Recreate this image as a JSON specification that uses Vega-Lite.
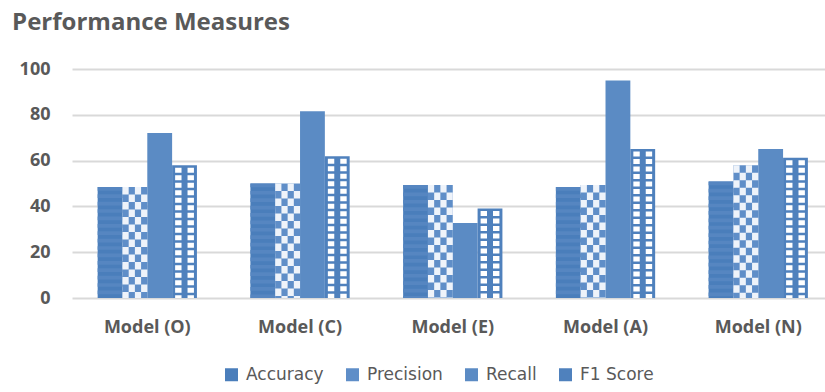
{
  "$schema": "https://vega.github.io/schema/vega-lite/v6.json",
  "width": 753,
  "height": 229,
  "autosize": "none",
  "padding": {"left": 72, "top": 69, "right": 0, "bottom": 94},
  "background": "white",
  "title": {
    "text": "Performance Measures",
    "anchor": "start",
    "font": "Open Sans",
    "fontSize": 24,
    "fontWeight": "bold",
    "color": "#595959",
    "baseline": "alphabetic",
    "offset": 6,
    "dx": -7
  },
  "config": {
    "view": {"stroke": null},
    "axis": {"labelFont": "Open Sans", "labelFontWeight": "bold", "labelColor": "#595959"}
  },
  "data": {
    "values": [
      {"Model": "Model (O)", "Measure": "Accuracy", "Value": 48.5},
      {"Model": "Model (O)", "Measure": "Precision", "Value": 48.5},
      {"Model": "Model (O)", "Measure": "Recall", "Value": 72.1},
      {"Model": "Model (O)", "Measure": "F1 Score", "Value": 58.0},
      {"Model": "Model (C)", "Measure": "Accuracy", "Value": 50.0},
      {"Model": "Model (C)", "Measure": "Precision", "Value": 50.0},
      {"Model": "Model (C)", "Measure": "Recall", "Value": 81.5},
      {"Model": "Model (C)", "Measure": "F1 Score", "Value": 61.9},
      {"Model": "Model (E)", "Measure": "Accuracy", "Value": 49.3},
      {"Model": "Model (E)", "Measure": "Precision", "Value": 49.3},
      {"Model": "Model (E)", "Measure": "Recall", "Value": 32.8},
      {"Model": "Model (E)", "Measure": "F1 Score", "Value": 39.1},
      {"Model": "Model (A)", "Measure": "Accuracy", "Value": 48.5},
      {"Model": "Model (A)", "Measure": "Precision", "Value": 49.3},
      {"Model": "Model (A)", "Measure": "Recall", "Value": 95.0},
      {"Model": "Model (A)", "Measure": "F1 Score", "Value": 65.1},
      {"Model": "Model (N)", "Measure": "Accuracy", "Value": 50.9},
      {"Model": "Model (N)", "Measure": "Precision", "Value": 58.0},
      {"Model": "Model (N)", "Measure": "Recall", "Value": 65.1},
      {"Model": "Model (N)", "Measure": "F1 Score", "Value": 61.2}
    ]
  },
  "layer": [
    {
      "mark": {"type": "bar"},
      "encoding": {
        "x": {
          "field": "Model", "type": "nominal", "sort": null,
          "scale": {"paddingInner": 0.35, "paddingOuter": 0.14, "align": 0.6},
          "axis": {"title": null, "domain": false, "ticks": false, "labelAngle": 0, "labelFontSize": 18, "labelPadding": 20}
        },
        "xOffset": {
          "field": "Measure", "type": "nominal",
          "sort": ["Accuracy", "Precision", "Recall", "F1 Score"],
          "scale": {"paddingInner": 0, "paddingOuter": 0}
        },
        "y": {
          "field": "Value", "type": "quantitative",
          "scale": {"domain": [0, 100], "nice": false},
          "axis": {
            "title": null, "values": [0, 20, 40, 60, 80, 100], "domain": false, "ticks": false,
            "labelFontSize": 18, "labelPadding": 22, "gridColor": "#d9d9d9", "gridWidth": 2
          }
        },
        "color": {
          "field": "Measure", "type": "nominal",
          "sort": ["Accuracy", "Precision", "Recall", "F1 Score"],
          "scale": {
            "domain": ["Accuracy", "Precision", "Recall", "F1 Score"],
            "range": ["#4a7ebb", "#5f8ec8", "#5b8bc4", "#4f81bd"]
          },
          "legend": {
            "title": null, "orient": "none", "direction": "horizontal",
            "legendX": 151, "legendY": 297,
            "symbolType": "square", "symbolSize": 169, "symbolStrokeWidth": 0, "symbolOpacity": 1,
            "labelFont": "DejaVu Sans", "labelFontSize": 17, "labelColor": "#595959",
            "labelOffset": 6, "columnPadding": 20
          }
        }
      }
    },
    {
      "transform": [{"filter": "datum.Measure === 'Accuracy'"}],
      "mark": {"type": "rule", "color": "#5686c1", "strokeWidth": 24.8, "strokeDash": [3.7, 3.7]},
      "encoding": {
        "x": {"field": "Model", "type": "nominal", "sort": null, "bandPosition": 0.125},
        "y": {"field": "Value", "type": "quantitative"},
        "y2": {"datum": 0}
      }
    },
    {
      "transform": [{"filter": "datum.Measure === 'Precision'"}],
      "mark": {"type": "rule", "color": "#eef3fa", "strokeWidth": 6.2, "strokeDash": [7.5, 7.5], "strokeDashOffset": 0},
      "encoding": {
        "x": {"field": "Model", "type": "nominal", "sort": null, "bandPosition": 0.28125},
        "y": {"field": "Value", "type": "quantitative"},
        "y2": {"datum": 0}
      }
    },
    {
      "transform": [{"filter": "datum.Measure === 'Precision'"}],
      "mark": {"type": "rule", "color": "#eef3fa", "strokeWidth": 6.2, "strokeDash": [7.5, 7.5], "strokeDashOffset": 7.5},
      "encoding": {
        "x": {"field": "Model", "type": "nominal", "sort": null, "bandPosition": 0.34375},
        "y": {"field": "Value", "type": "quantitative"},
        "y2": {"datum": 0}
      }
    },
    {
      "transform": [{"filter": "datum.Measure === 'Precision'"}],
      "mark": {"type": "rule", "color": "#eef3fa", "strokeWidth": 6.2, "strokeDash": [7.5, 7.5], "strokeDashOffset": 0},
      "encoding": {
        "x": {"field": "Model", "type": "nominal", "sort": null, "bandPosition": 0.40625},
        "y": {"field": "Value", "type": "quantitative"},
        "y2": {"datum": 0}
      }
    },
    {
      "transform": [{"filter": "datum.Measure === 'Precision'"}],
      "mark": {"type": "rule", "color": "#eef3fa", "strokeWidth": 6.2, "strokeDash": [7.5, 7.5], "strokeDashOffset": 7.5},
      "encoding": {
        "x": {"field": "Model", "type": "nominal", "sort": null, "bandPosition": 0.46875},
        "y": {"field": "Value", "type": "quantitative"},
        "y2": {"datum": 0}
      }
    },
    {
      "transform": [{"filter": "datum.Measure === 'F1 Score'"}],
      "mark": {"type": "rule", "color": "#ffffff", "strokeWidth": 6.4, "strokeDash": [5, 2.5], "strokeDashOffset": -2.5},
      "encoding": {
        "x": {"field": "Model", "type": "nominal", "sort": null, "bandPosition": 0.8125},
        "y": {"field": "Value", "type": "quantitative"},
        "y2": {"datum": 0}
      }
    },
    {
      "transform": [{"filter": "datum.Measure === 'F1 Score'"}],
      "mark": {"type": "rule", "color": "#ffffff", "strokeWidth": 6.4, "strokeDash": [5, 2.5], "strokeDashOffset": -2.5},
      "encoding": {
        "x": {"field": "Model", "type": "nominal", "sort": null, "bandPosition": 0.9375},
        "y": {"field": "Value", "type": "quantitative"},
        "y2": {"datum": 0}
      }
    }
  ]
}
